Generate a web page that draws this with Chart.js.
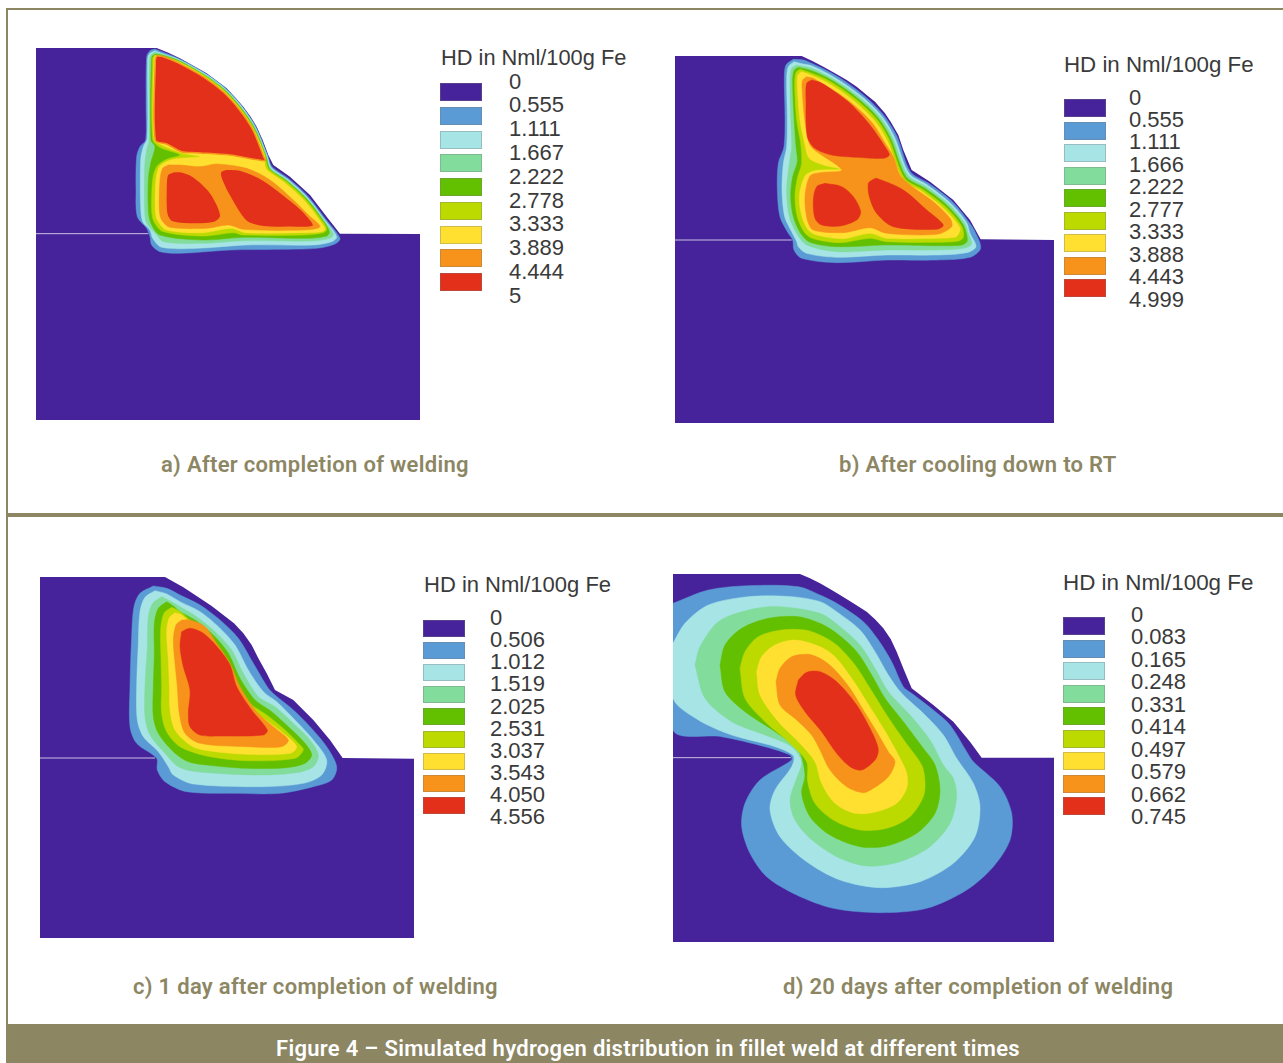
<!DOCTYPE html>
<html>
<head>
<meta charset="utf-8">
<title>Figure 4</title>
<script src="https://cdn.jsdelivr.net/npm/chart.js@4"></script>
<style>
    html, body { margin: 0; padding: 0; background: #fff; }
    #page { position: relative; width: 1283px; height: 1063px; overflow: hidden; }
    #page canvas { position: absolute; filter: blur(0.6px); }
    .rule { position: absolute; background: #8c8663; }
    .txt { position: absolute; white-space: nowrap; line-height: 1; }
    .legend { font-family: "Liberation Sans", Arial, sans-serif; font-size: 22px; color: #3a3a3a; }
    .caption { font-family: Roboto, sans-serif; font-weight: 600; font-size: 22px; letter-spacing: 0.3px; color: #8c8663; }
    .swatch { position: absolute; box-sizing: border-box; border: 1px solid rgba(120,120,120,0.35); }
</style>
</head>
<body>
<div id="page"></div>
<script>
// contour levels, lowest first
const levelColors = ['#46239a', '#5a9ad5', '#a6e4e6', '#82dc9c', '#63c000', '#bcd900', '#ffe030', '#f7931a', '#e2301a'];
const gapColor = '#c9bfe0';

const captions = ['a) After completion of welding', 'b) After cooling down to RT', 'c) 1 day after completion of welding', 'd) 20 days after completion of welding'];
const figureTitle = 'Figure 4 – Simulated hydrogen distribution in fillet weld at different times';
const legendTitle = 'HD in Nml/100g Fe';

const ticksA = ['0', '0.555', '1.111', '1.667', '2.222', '2.778', '3.333', '3.889', '4.444', '5'];
const ticksB = ['0', '0.555', '1.111', '1.666', '2.222', '2.777', '3.333', '3.888', '4.443', '4.999'];
const ticksC = ['0', '0.506', '1.012', '1.519', '2.025', '2.531', '3.037', '3.543', '4.050', '4.556'];
const ticksD = ['0', '0.083', '0.165', '0.248', '0.331', '0.414', '0.497', '0.579', '0.662', '0.745'];

// contours, in plot units (3 units = 1 px of the figure)
const plateA = [[-282,24],[80,24],[115,38],[150,55],[190,77],[230,100],[260,122],[290,145],[315,172],[340,200],[362,230],[380,260],[398,300],[415,345],[430,375],[480,410],[540,465],[590,530],[630,581],[870,582],[870,1140],[-282,1140]];
const gapA = [[-282,581],[55,581]];
const blueA = [[75,27],[60,32],[50,50],[48,200],[47,300],[30,320],[20,350],[18,450],[22,530],[50,565],[60,590],[65,615],[90,635],[150,640],[300,630],[450,628],[560,625],[615,612],[630,595],[585,535],[535,470],[475,415],[426,380],[413,346],[378,261],[338,201],[289,146],[229,102],[149,57],[100,37]];
const cyanA = [[75,32],[58,42],[53,60],[52,295],[40,320],[32,360],[32,500],[38,545],[60,570],[68,595],[95,622],[200,625],[350,615],[550,615],[605,605],[620,590],[583,538],[533,473],[473,418],[424,383],[411,346],[376,262],[337,202],[287,148],[228,103],[148,59],[95,40]];
const mintA = [[75,36],[62,46],[58,60],[57,300],[50,330],[44,380],[44,510],[50,550],[78,582],[100,605],[220,610],[340,602],[540,603],[600,595],[610,582],[581,540],[531,475],[471,420],[421,385],[409,347],[375,263],[335,204],[286,149],[227,105],[147,60],[95,42]];
const greenA = [[75,42],[65,52],[63,300],[75,320],[62,370],[55,420],[55,510],[62,548],[90,585],[220,600],[340,592],[530,595],[590,588],[598,575],[580,542],[530,477],[470,422],[420,387],[408,348],[373,264],[334,205],[285,151],[226,107],[146,62],[95,45]];
const limeA = [[75,45],[68,55],[68,298],[90,322],[150,345],[110,358],[80,380],[68,420],[65,510],[72,545],[100,575],[220,588],[310,578],[340,585],[520,585],[580,578],[590,568],[578,544],[528,479],[468,424],[418,389],[410,372],[406,348],[371,265],[332,206],[283,152],[225,108],[145,64],[95,48]];
const yellowA = [[76,47],[72,58],[72,295],[95,315],[160,340],[210,350],[130,358],[90,378],[78,420],[76,510],[82,540],[110,570],[220,578],[305,565],[345,578],[520,578],[575,575],[585,568],[574,548],[524,483],[464,428],[414,393],[405,378],[404,349],[369,266],[330,207],[282,154],[223,110],[145,66],[95,50]];
const orangeA = [[115,375],[98,385],[90,420],[88,510],[95,540],[120,562],[230,565],[295,555],[340,568],[520,570],[570,560],[535,525],[490,480],[420,420],[350,385],[260,372],[225,378],[200,380],[150,375]];
const redA1 = [[80,47],[76,60],[76,300],[110,312],[155,335],[200,338],[300,345],[405,362],[401,350],[367,267],[328,209],[280,156],[222,112],[143,68],[100,50]];
const redA2 = [[130,395],[112,405],[108,450],[110,520],[125,545],[180,552],[250,548],[272,530],[260,490],[235,450],[190,410],[155,395]];
const redA3 = [[290,387],[272,395],[275,420],[305,480],[350,545],[400,560],[480,562],[550,558],[525,520],[480,480],[400,420],[330,390]];

const plateB = [[-285,18],[95,18],[127,33],[160,50],[195,70],[230,90],[260,110],[290,135],[315,155],[345,190],[362,215],[385,255],[400,300],[425,360],[480,395],[550,450],[600,510],[632,568],[852,570],[852,1119],[-285,1119]];
const gapB = [[-285,570],[65,570]];
const blueB = [[70,28],[48,45],[43,80],[45,200],[42,290],[25,340],[22,420],[30,500],[55,550],[68,570],[72,600],[95,625],[200,638],[350,630],[500,630],[600,622],[632,595],[615,545],[595,514],[546,454],[476,400],[421,365],[380,257],[340,194],[286,140],[227,95],[177,65],[125,40],[100,30]];
const cyanB = [[72,35],[55,50],[50,85],[52,200],[50,290],[40,340],[36,420],[44,500],[65,545],[80,575],[85,590],[110,610],[200,622],[350,615],[500,615],[590,608],[618,590],[600,550],[590,518],[541,459],[472,405],[417,370],[373,260],[335,198],[282,145],[223,101],[174,71],[125,47],[100,42]];
const mintB = [[80,45],[65,55],[60,90],[62,200],[65,290],[58,340],[50,420],[58,500],[80,550],[110,585],[200,605],[350,600],[500,600],[580,595],[605,582],[595,550],[585,521],[537,463],[469,410],[413,375],[368,263],[331,202],[278,149],[220,106],[170,76],[125,55]];
const greenB = [[85,52],[72,62],[68,95],[72,200],[78,290],[82,335],[68,380],[62,440],[70,500],[92,550],[120,577],[200,590],[350,585],[500,587],[575,585],[592,572],[580,525],[532,467],[465,415],[408,380],[362,265],[326,206],[274,154],[216,110],[168,81],[125,62]];
const limeB = [[90,58],[78,68],[74,100],[80,210],[92,280],[95,340],[82,385],[75,440],[82,500],[104,548],[130,566],[210,578],[300,565],[350,575],[500,577],[565,573],[580,562],[575,529],[528,472],[461,420],[404,385],[357,267],[322,210],[270,158],[213,115],[165,86],[120,68]];
const yellowB = [[95,65],[84,75],[82,105],[90,210],[105,285],[118,325],[160,345],[215,358],[135,362],[105,378],[88,440],[96,500],[115,540],[140,555],[220,566],[300,550],[350,565],[500,565],[555,562],[565,553],[570,533],[523,477],[457,425],[400,390],[351,270],[316,215],[265,164],[209,121],[161,92],[115,72]];
const orangeB = [[110,80],[98,90],[96,110],[105,215],[120,285],[150,312],[200,345],[215,362],[150,368],[120,378],[105,440],[112,510],[130,540],[220,548],[300,533],[350,550],[500,553],[545,530],[540,505],[490,455],[420,405],[390,375],[370,320],[342,274],[309,221],[259,171],[204,129],[156,101],[130,85]];
const redB1 = [[125,90],[110,100],[108,150],[112,260],[135,295],[185,315],[260,322],[340,325],[358,315],[345,290],[300,225],[240,160],[180,115],[150,97]];
const redB2 = [[165,400],[140,410],[130,450],[135,505],[155,525],[210,528],[260,510],[272,485],[250,440],[215,410]];
const redB3 = [[310,388],[295,400],[298,440],[320,490],[370,530],[500,538],[520,525],[470,480],[400,420],[320,385]];

const plateC = [[-240,21],[135,21],[190,52],[240,85],[275,108],[310,135],[342,160],[370,190],[395,225],[415,265],[440,310],[465,360],[520,390],[580,450],[630,510],[668,564],[882,566],[882,1104],[-240,1104]];
const gapC = [[-240,564],[105,564]];
const blueC = [[100,48],[60,70],[42,110],[35,200],[30,350],[30,470],[50,520],[110,565],[112,600],[135,635],[200,665],[350,670],[480,670],[580,650],[635,630],[650,590],[620,530],[570,470],[520,420],[465,375],[445,355],[400,280],[355,205],[300,150],[240,105],[180,75],[140,55]];
const cyanC = [[105,62],[75,82],[60,125],[55,220],[50,350],[52,450],[70,500],[115,545],[145,590],[160,615],[220,642],[430,650],[550,640],[605,615],[620,570],[580,510],[520,445],[470,395],[430,365],[385,300],[345,225],[295,170],[240,125],[180,95],[140,72]];
const mintC = [[125,80],[98,100],[85,140],[82,230],[75,350],[75,440],[90,495],[135,550],[175,590],[230,605],[410,615],[530,608],[580,590],[595,555],[570,510],[520,460],[465,410],[415,380],[370,310],[335,240],[285,185],[230,140],[180,110],[145,90]];
const greenC = [[140,95],[115,115],[103,160],[103,250],[100,350],[100,440],[115,490],[160,545],[205,575],[260,585],[380,595],[500,593],[555,580],[575,555],[555,520],[510,475],[455,425],[405,390],[360,325],[325,250],[280,195],[225,150],[180,125],[160,108]];
const limeC = [[155,112],[132,130],[122,180],[123,260],[125,350],[125,430],[140,485],[180,530],[260,558],[380,572],[525,565],[550,540],[540,525],[495,480],[440,435],[390,400],[345,330],[310,265],[270,210],[220,160],[180,125]];
const yellowC = [[165,128],[147,145],[140,190],[145,270],[148,350],[150,420],[165,480],[210,525],[250,540],[380,553],[510,550],[530,530],[490,490],[430,445],[375,405],[335,340],[300,280],[260,215],[220,170],[185,135]];
const orangeC = [[185,150],[168,165],[160,210],[165,280],[172,350],[178,430],[195,490],[240,520],[380,530],[485,530],[505,510],[460,470],[410,425],[360,350],[330,280],[290,220],[255,170],[210,150]];
const redC = [[185,185],[210,175],[250,190],[295,235],[330,285],[350,350],[395,420],[442,480],[430,495],[300,498],[240,495],[210,470],[205,430],[210,360],[190,290],[180,230]];

const plateD = [[24,27],[405,27],[435,40],[465,55],[495,72],[525,90],[565,115],[605,140],[630,163],[655,190],[677,222],[695,260],[717,315],[740,370],[805,420],[865,470],[915,530],[950,578],[1167,578],[1167,1131],[24,1131]];
const gapD = [[24,578],[378,578]];
const blueD = [[24,115],[130,75],[250,62],[400,65],[465,90],[515,115],[595,170],[640,225],[680,290],[715,365],[740,385],[805,435],[855,480],[905,560],[925,590],[1005,665],[1040,745],[1035,825],[985,905],[905,975],[785,1030],[645,1043],[505,1030],[395,990],[305,935],[255,865],[230,785],[240,715],[285,645],[380,585],[375,570],[300,545],[170,515],[24,495]];
const cyanD = [[24,235],[60,175],[130,120],[250,95],[380,95],[465,110],[515,140],[585,195],[630,260],[670,330],[710,385],[775,445],[835,510],[875,580],[925,655],[945,725],[930,815],[865,895],[765,950],[645,968],[525,945],[425,890],[345,815],[315,735],[330,675],[380,605],[385,572],[330,545],[200,510],[100,465],[24,400]];
const mintD = [[90,300],[105,245],[160,170],[250,135],[340,125],[465,145],[525,185],[585,240],[630,310],[670,380],[735,450],[795,525],[835,600],[865,640],[875,695],[855,775],[795,845],[705,890],[605,903],[515,875],[435,820],[390,765],[375,705],[395,640],[410,590],[380,545],[300,510],[200,470],[120,400]];
const greenD = [[165,300],[180,240],[230,190],[310,160],[400,155],[465,175],[515,205],[575,260],[620,330],[660,400],[715,470],[775,550],[810,600],[825,675],[810,745],[755,805],[665,843],[585,845],[495,810],[435,755],[410,685],[420,630],[400,555],[330,500],[240,440],[180,380]];
const limeD = [[225,310],[240,260],[280,215],[350,195],[420,195],[465,210],[515,240],[570,300],[615,370],[665,450],[720,530],[770,600],[780,650],[775,695],[735,755],[665,790],[585,795],[505,765],[450,715],[428,650],[425,590],[370,530],[300,470],[240,400]];
const yellowD = [[275,320],[290,275],[330,240],[390,225],[465,245],[510,275],[560,340],[605,410],[655,490],[700,570],[725,625],[725,670],[695,715],[635,740],[570,745],[510,715],[470,655],[450,590],[400,530],[340,470],[285,390]];
const orangeD = [[333,350],[345,310],[380,275],[430,268],[465,280],[505,310],[555,370],[595,435],[635,500],[670,560],[690,590],[670,635],[625,670],[595,683],[545,665],[495,615],[465,555],[440,510],[395,465],[345,420]];
const redD = [[400,345],[425,322],[465,320],[515,350],[575,420],[625,510],[640,555],[630,585],[590,615],[555,605],[515,565],[470,500],[420,440],[392,390]];

const page = document.getElementById('page');

function addRule(left, top, width, height) {
    const el = document.createElement('div');
    el.className = 'rule';
    el.style.cssText = `left:${left}px;top:${top}px;width:${width}px;height:${height}px`;
    page.appendChild(el);
}

function addText(cls, text, left, top, color) {
    const el = document.createElement('div');
    el.className = 'txt ' + cls;
    el.textContent = text;
    el.style.left = left + 'px';
    el.style.top = top + 'px';
    if (color) el.style.color = color;
    page.appendChild(el);
    return el;
}

// one closed filled contour
function contour(points, color, n, extra) {
    const closed = points.concat([points[0]]);
    return Object.assign({
        data: closed.map(p => ({ x: p[0], y: p[1] })),
        showLine: true,
        fill: 'shape',
        backgroundColor: color,
        borderColor: color,
        borderWidth: 0.5,
        pointRadius: 0,
        tension: 0.3,
        order: n
    }, extra || {});
}

function drawPanel(box, layers, gap) {
    const canvas = document.createElement('canvas');
    canvas.width = box.w;
    canvas.height = box.h;
    canvas.style.left = box.x + 'px';
    canvas.style.top = box.y + 'px';
    page.appendChild(canvas);

    const datasets = layers.map((l, i) => {
        // the plate keeps its hard corners
        const extra = i === 0 ? { tension: 0, borderWidth: 0 } : (l.edge ? { borderColor: l.edge, borderWidth: 1.5 } : null);
        return contour(l.pts, l.color, layers.length + 1 - i, extra);
    });
    datasets.push({
        data: gap.map(p => ({ x: p[0], y: p[1] })),
        showLine: true,
        borderColor: gapColor,
        borderWidth: 1,
        pointRadius: 0,
        order: 0
    });

    new Chart(canvas.getContext('2d'), {
        type: 'scatter',
        data: { datasets: datasets },
        options: {
            responsive: false,
            animation: false,
            events: [],
            layout: { padding: 0 },
            plugins: { legend: { display: false }, tooltip: { enabled: false } },
            scales: {
                x: { type: 'linear', display: false, min: box.xMin, max: box.xMin + box.w * 3 },
                y: { type: 'linear', display: false, reverse: true, min: box.yMin, max: box.yMin + box.h * 3 }
            }
        }
    });
}

function drawLegend(title, titleX, titleY, titleSize, ticks, swX, swY, swH, swStep, labelX, labelY, labelStep) {
    addText('legend', title, titleX, titleY - 11).style.fontSize = titleSize + 'px';
    levelColors.forEach((c, i) => {
        const el = document.createElement('div');
        el.className = 'swatch';
        el.style.cssText = `left:${swX}px;top:${swY + i * swStep}px;width:42px;height:${swH}px;background:${c}`;
        page.appendChild(el);
    });
    ticks.forEach((t, i) => addText('legend', t, labelX, labelY + i * labelStep - 11));
}

function layersOf(plate, blue, cyan, mint, green, lime, yellow, orange, reds, edge) {
    const list = [plate, blue, cyan, mint, green, lime, yellow, orange].map((pts, i) => ({ pts: pts, color: levelColors[i] }));
    reds.forEach(r => list.push({ pts: r, color: levelColors[8], edge: edge }));
    return list;
}

// frame
addRule(6, 8, 1277, 2);
addRule(6, 8, 2, 1055);
addRule(6, 513, 1277, 4);
addRule(6, 1024, 1277, 39);

drawPanel({ x: 36, y: 48, w: 384, h: 372, xMin: -282, yMin: 24 },
    layersOf(plateA, blueA, cyanA, mintA, greenA, limeA, yellowA, orangeA, [redA1, redA2, redA3], levelColors[7]), gapA);
drawPanel({ x: 675, y: 56, w: 379, h: 367, xMin: -285, yMin: 18 },
    layersOf(plateB, blueB, cyanB, mintB, greenB, limeB, yellowB, orangeB, [redB1, redB2, redB3]), gapB);
drawPanel({ x: 40, y: 577, w: 374, h: 361, xMin: -240, yMin: 21 },
    layersOf(plateC, blueC, cyanC, mintC, greenC, limeC, yellowC, orangeC, [redC]), gapC);
drawPanel({ x: 673, y: 574, w: 381, h: 368, xMin: 24, yMin: 27 },
    layersOf(plateD, blueD, cyanD, mintD, greenD, limeD, yellowD, orangeD, [redD]), gapD);

drawLegend(legendTitle, 441, 58, 21.8, ticksA, 440, 83, 18, 23.75, 509, 81.5, 23.8);
drawLegend(legendTitle, 1064, 65, 22.3, ticksB, 1064, 99, 18, 22.5, 1129, 97.5, 22.45);
drawLegend(legendTitle, 424, 585, 22, ticksC, 423, 620, 17, 22.1, 490, 618, 22.15);
drawLegend(legendTitle, 1063, 582.5, 22.4, ticksD, 1063, 617, 18, 22.5, 1131, 615, 22.45);

addText('caption', captions[0], 161, 454);
addText('caption', captions[1], 839, 454);
addText('caption', captions[2], 133, 976);
addText('caption', captions[3], 783, 976);
addText('caption', figureTitle, 276, 1038, '#ffffff');
</script>
</body>
</html>
